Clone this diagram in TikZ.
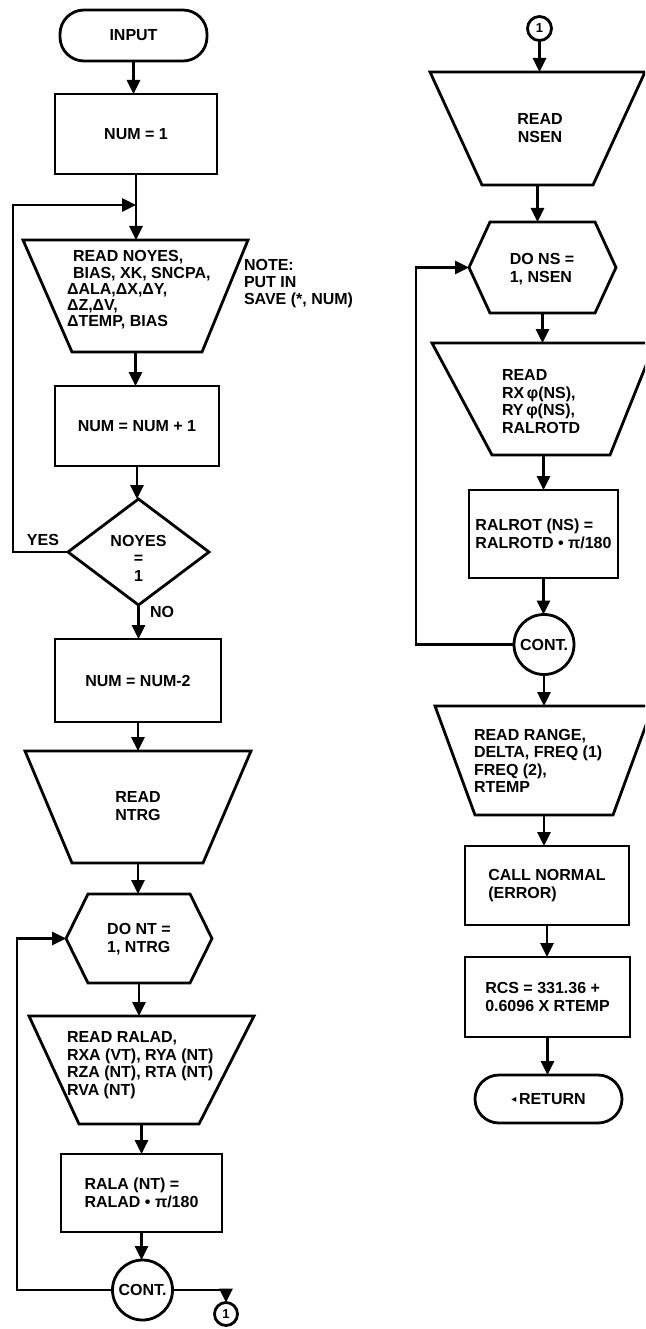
\documentclass[tikz,border=0pt]{standalone}
\usepackage{fontspec}
\setmainfont{Liberation Sans}
\newfontfamily\symfont{DejaVu Sans}
\usetikzlibrary{arrows.meta}
\begin{document}
\begin{tikzpicture}[x=1pt,y=-1pt,line width=2.8pt,
  every node/.style={inner sep=0pt,outer sep=0pt},
  lbl/.style={font=\bfseries\fontsize{16}{17.5}\selectfont,align=left},
  proc/.style={draw,lbl},
  term/.style={draw,lbl,rounded corners=24pt},
  conn/.style={draw,circle,lbl},
  small/.style={font=\bfseries\fontsize{13}{13}\selectfont},
  flow/.style={-{Triangle[length=14pt,width=13pt]}}]
\useasboundingbox (0,0) rectangle (645,1329);
\clip (0,0) rectangle (645,1329);

% ---------------- first column ----------------
\node[term,minimum width=147pt,minimum height=51pt] (inp) at (133.5,35.5) {INPUT};
\node[proc,minimum width=162pt,minimum height=80pt] (n1) at (136,134) {NUM = 1};

\node[minimum width=225pt,minimum height=112pt] (rd1) at (135.5,296) {};
\draw (rd1.north west) -- (rd1.north east) -- ([xshift=-46pt]rd1.south east)
      -- ([xshift=49pt]rd1.south west) -- cycle;
\node[lbl,anchor=west,font=\bfseries\fontsize{16}{16.3}\selectfont] (rd1t) at (67,290)
  {\hspace*{6pt}READ NOYES,\\\hspace*{6pt}BIAS, XK, SNCPA,\\ΔALA,ΔX,ΔY,\\ΔZ,ΔV,\\ΔTEMP, BIAS};
\node[lbl,anchor=west,font=\bfseries\fontsize{16}{17}\selectfont] (note) at (244,284)
  {NOTE:\\PUT IN\\SAVE (*, NUM)};

\node[proc,minimum width=164pt,minimum height=80pt] (n2) at (137,426) {NUM = NUM + 1};

\node[minimum width=141pt,minimum height=106pt] (dia) at (138.5,552) {};
\draw (dia.north) -- (dia.east) -- (dia.south) -- (dia.west) -- cycle;
\node[lbl,align=center] (diat) at (138.5,558) {NOYES\\=\\1};
\node[lbl] (yes) at (43,540) {YES};
\node[lbl] (no) at (162,612) {NO};

\node[proc,minimum width=166pt,minimum height=83pt] (n3) at (138,680.5) {NUM = NUM-2};

\node[minimum width=226pt,minimum height=112pt] (rd2) at (138,807) {};
\draw (rd2.north west) -- (rd2.north east) -- ([xshift=-48pt]rd2.south east)
      -- ([xshift=47pt]rd2.south west) -- cycle;
\node[lbl,align=center] (rd2t) at (138,806) {READ\\NTRG};

\node[minimum width=146pt,minimum height=89pt] (hx1) at (139,938.5) {};
\draw (hx1.west) -- ([xshift=22pt]hx1.north west) -- ([xshift=-22pt]hx1.north east)
      -- (hx1.east) -- ([xshift=-22pt]hx1.south east) -- ([xshift=22pt]hx1.south west) -- cycle;
\node[lbl] (hx1t) at (139,939) {DO NT =\\1, NTRG};

\node[minimum width=225pt,minimum height=108pt] (rd3) at (141.5,1070) {};
\draw (rd3.north west) -- (rd3.north east) -- ([xshift=-55pt]rd3.south east)
      -- ([xshift=50pt]rd3.south west) -- cycle;
\node[lbl,anchor=west] (rd3t) at (67,1065)
  {READ RALAD,\\RXA (VT), RYA (NT)\\RZA (NT), RTA (NT)\\RVA (NT)};

\node[proc,minimum width=161pt,minimum height=78pt] (n4) at (141.5,1193)
  {RALA (NT) =\\RALAD • π/180};
\node[conn,minimum size=60pt] (ct1) at (142.5,1290) {CONT.};
\node[conn,small,minimum size=23pt] (c1a) at (226,1314) {1};

\draw[flow] (inp.south) -- (inp.south |- n1.north);
\path (n1.south) -- (n1.south |- rd1.north) coordinate[pos=0.47] (j1);
\draw[flow] (n1.south) -- (n1.south |- rd1.north);
\draw[flow] (rd1.south) -- (rd1.south |- n2.north);
\draw[flow] (n2.south) -- (n2.south |- dia.north);
\draw[flow] (dia.south) -- (dia.south |- n3.north);
\draw[flow] (n3.south) -- (n3.south |- rd2.north);
\draw[flow] (rd2.south) -- (rd2.south |- hx1.north);
\draw[flow] (hx1.south) -- (hx1.south |- rd3.north);
\draw[flow] (rd3.south) -- (rd3.south |- n4.north);
\draw[flow] (n4.south) -- (n4.south |- ct1.north);
\coordinate (lx1) at (13,0);
\draw[flow] (dia.west) -- (dia.west -| lx1) |- (j1);
\coordinate (lx2) at (17,0);
\draw[flow] (ct1.west) -- (ct1.west -| lx2) |- (hx1.west);
\draw[flow] (ct1.east) -| (c1a.north);

% ---------------- second column ----------------
\node[conn,small,minimum size=24pt] (c1b) at (539.5,28.5) {1};

\node[minimum width=215pt,minimum height=113pt] (rs1) at (537.5,128.5) {};
\draw (rs1.north west) -- (rs1.north east) -- ([xshift=-52pt]rs1.south east)
      -- ([xshift=52pt]rs1.south west) -- cycle;
\node[lbl,align=center] (rs1t) at (540,128) {READ\\NSEN};

\node[minimum width=147pt,minimum height=91pt] (hx2) at (542.5,267.5) {};
\draw (hx2.west) -- ([xshift=21pt]hx2.north west) -- ([xshift=-21pt]hx2.north east)
      -- (hx2.east) -- ([xshift=-21pt]hx2.south east) -- ([xshift=21pt]hx2.south west) -- cycle;
\node[lbl] (hx2t) at (542,269) {DO NS =\\1, NSEN};

\node[minimum width=223pt,minimum height=112pt] (rs2) at (543.5,399) {};
\draw (rs2.north west) -- (rs2.north east) -- ([xshift=-45pt]rs2.south east)
      -- ([xshift=60pt]rs2.south west) -- cycle;
\node[lbl,anchor=west] (rs2t) at (502,401.5) {READ\\RX\,φ(NS),\\RY\,φ(NS),\\RALROTD};

\node[proc,minimum width=149pt,minimum height=88pt] (n5) at (543.5,534)
  {RALROT (NS) =\\RALROTD • π/180};
\node[conn,minimum size=60pt] (ct2) at (544,644.5) {CONT.};

\node[minimum width=218pt,minimum height=109pt] (rs3) at (544,760.5) {};
\draw (rs3.north west) -- (rs3.north east) -- ([xshift=-40pt]rs3.south east)
      -- ([xshift=40pt]rs3.south west) -- cycle;
\node[lbl,anchor=west] (rs3t) at (474,761)
  {READ RANGE,\\DELTA, FREQ (1)\\FREQ (2),\\RTEMP};

\node[proc,minimum width=164pt,minimum height=79pt] (n6) at (547,885.5) {CALL NORMAL\\(ERROR)};
\node[proc,minimum width=165pt,minimum height=80pt] (n7) at (547.5,997)
  {RCS = 331.36 +\\0.6096 X RTEMP};
\node[term,minimum width=147pt,minimum height=48pt] (ret) at (548.5,1099)
  {\raisebox{1.5pt}{\symfont\fontsize{10}{10}\selectfont ◂}\,RETURN};

\draw[flow] (c1b.south) -- (c1b.south |- rs1.north);
\draw[flow] (rs1.south) -- (rs1.south |- hx2.north);
\draw[flow] (hx2.south) -- (hx2.south |- rs2.north);
\draw[flow] (rs2.south) -- (rs2.south |- n5.north);
\draw[flow] (n5.south) -- (n5.south |- ct2.north);
\draw[flow] (ct2.south) -- (ct2.south |- rs3.north);
\draw[flow] (rs3.south) -- (rs3.south |- n6.north);
\draw[flow] (n6.south) -- (n6.south |- n7.north);
\draw[flow] (n7.south) -- (n7.south |- ret.north);
\coordinate (lx3) at (416,0);
\draw[flow] (ct2.west) -- (ct2.west -| lx3) |- (hx2.west);
\end{tikzpicture}
\end{document}
